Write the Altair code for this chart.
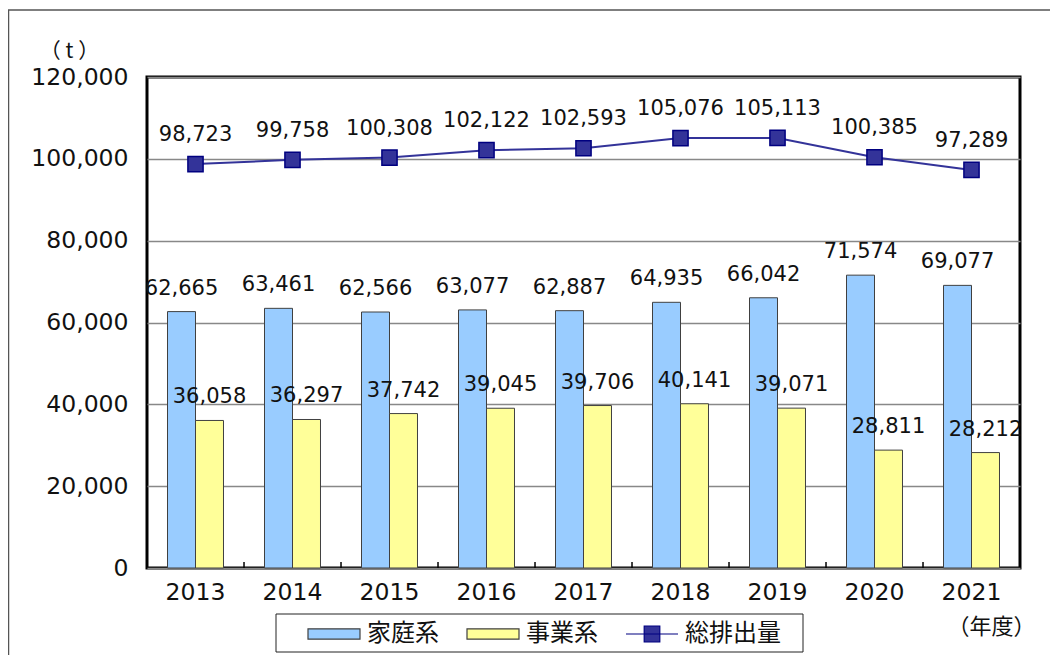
import altair as alt
import pandas as pd

years = ["2013", "2014", "2015", "2016", "2017", "2018", "2019", "2020", "2021"]
katei = [62665, 63461, 62566, 63077, 62887, 64935, 66042, 71574, 69077]
jigyo = [36058, 36297, 37742, 39045, 39706, 40141, 39071, 28811, 28212]
total = [98723, 99758, 100308, 102122, 102593, 105076, 105113, 100385, 97289]
series_names = ["家庭系", "事業系", "総排出量"]
y_ticks = [0, 20000, 40000, 60000, 80000, 100000, 120000]

bars_df = pd.DataFrame({
    "year": years * 2,
    "series": [series_names[0]] * len(years) + [series_names[1]] * len(years),
    "value": katei + jigyo,
})
line_df = pd.DataFrame({"year": years, "value": total, "series": series_names[2]})
tick_df = pd.DataFrame({"year": years[1:]})
dummy = pd.DataFrame({"a": [0]})

W, H = 873, 491
NUM_FONT = "DejaVu Sans"
JP_FONT = "Noto Sans CJK JP"

x_axis = alt.Axis(
    title="（年度）", labelAngle=0, labelFont=NUM_FONT, labelFontSize=23.5,
    labelColor="#111", labelPadding=12, ticks=False, domain=False,
    titleFont=JP_FONT, titleFontSize=22, titleFontWeight="normal", titleColor="#111",
    titleX=844, titleY=58, titleAlign="center", titleBaseline="middle",
)
x_scale = alt.Scale(paddingInner=0.423, paddingOuter=0.2115)


def mkx(**kw):
    return alt.X("year:O", sort=years, scale=x_scale, axis=x_axis, **kw)


y = alt.Y(
    "value:Q", scale=alt.Scale(domain=[0, 120000]),
    axis=alt.Axis(
        values=y_ticks, format=",d", title="（ t ）", titleAngle=0, titleX=-78, titleY=-26,
        titleAlign="center", titleBaseline="middle", titleFont=JP_FONT, titleFontSize=21,
        titleFontWeight="normal", titleColor="#111",
        labelFont=NUM_FONT, labelFontSize=23.5, labelColor="#111", labelPadding=19,
        ticks=False, tickSize=0, domain=False, gridColor="#888888", gridWidth=1.5,
    ),
)
x_off = alt.XOffset("series:N", sort=series_names[:2],
                    scale=alt.Scale(domain=series_names[:2], paddingInner=0, paddingOuter=0))

rect_path = "M-1,-0.2H1V0.2H-1Z"
line_path = "M-1,0H1M-0.3,-0.3H0.3V0.3H-0.3Z"

color = alt.Color(
    "series:N",
    scale=alt.Scale(domain=series_names, range=["#99CCFF", "#FFFF99", "#333399"]),
    legend=alt.Legend(
        title=None, orient="none", legendX=160, legendY=530, direction="horizontal",
        columns=3, symbolSize=2704, symbolStrokeWidth=1.2, labelFont=JP_FONT,
        labelFontSize=24, labelColor="#111", labelOffset=6, columnPadding=25, padding=0,
        symbolOpacity=1,
    ),
)

bars = alt.Chart(bars_df).mark_bar(stroke="#404040", strokeWidth=1).encode(
    x=mkx(), y=y, xOffset=x_off, color=color
)
bar_text = alt.Chart(bars_df).mark_text(
    baseline="alphabetic", dy=-17, font=NUM_FONT, fontSize=21, color="#111"
).encode(x=mkx(), y=y, xOffset=x_off, text=alt.Text("value:Q", format=","))

line = alt.Chart(line_df).mark_line(color="#333399", strokeWidth=2).encode(x=mkx(), y=y)
points = alt.Chart(line_df).mark_point(
    shape="square", filled=True, size=230, fill="#333399", stroke="#000080",
    strokeWidth=1.5, opacity=1
).encode(x=mkx(), y=y)
line_text = alt.Chart(line_df).mark_text(
    baseline="alphabetic", dy=-23, font=NUM_FONT, fontSize=21, color="#111"
).encode(x=mkx(), y=y, text=alt.Text("value:Q", format=","))

legend_layer = alt.Chart(line_df).transform_filter("false").mark_point(filled=True).encode(
    color=color,
    shape=alt.Shape("series:N", scale=alt.Scale(domain=series_names,
                                                range=[rect_path, rect_path, line_path])),
    stroke=alt.Stroke("series:N", scale=alt.Scale(domain=series_names,
                                                  range=["#404040", "#404040", "#000080"])),
)

xticks = alt.Chart(tick_df).mark_rule(color="black", strokeWidth=1.5, xOffset=-20.5).encode(
    x=mkx(bandPosition=0), y=alt.value(H), y2=alt.value(H - 6)
)

legend_box = alt.Chart(dummy).mark_rect(filled=False, stroke="#222", strokeWidth=1).encode(
    x=alt.value(129), x2=alt.value(656), y=alt.value(537), y2=alt.value(575)
)
outer_box = alt.Chart(dummy).mark_rect(filled=False, stroke="#555", strokeWidth=1.5).encode(
    x=alt.value(-138.5), x2=alt.value(2000), y=alt.value(-67), y2=alt.value(2000)
)

chart = alt.layer(
    outer_box, bars, line, points, bar_text, line_text, xticks, legend_layer, legend_box
).properties(
    width=W, height=H,
    padding={"left": 139, "top": 69, "right": 30, "bottom": 87},
    autosize=alt.AutoSizeParams(type="none"),
).configure_view(stroke="black", strokeWidth=3)

chart.save("out.html", embed_options={"renderer": "svg", "actions": False})
